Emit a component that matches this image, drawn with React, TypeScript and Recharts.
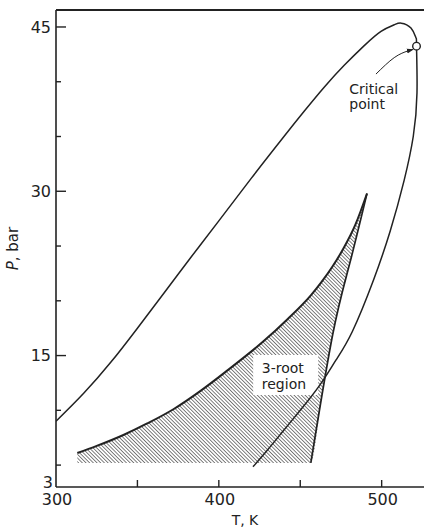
import {
  Area,
  ComposedChart,
  Line,
  ReferenceArea,
  ReferenceDot,
  ReferenceLine,
  XAxis,
  YAxis,
} from "recharts";

const FONT = "DejaVu Sans";
const INK = "#222";

const X_TICKS = [300, 350, 400, 450, 500];
const X_LABELED = [300, 400, 500];
const Y_TICKS = [3, 5, 10, 15, 20, 25, 30, 35, 40, 45];
const Y_LABELED = [15, 30, 45];

const envelope = [
  { T: 300, P: 9.0 },
  { T: 317, P: 11.55 },
  { T: 334, P: 14.45 },
  { T: 350, P: 17.5 },
  { T: 366, P: 20.65 },
  { T: 383, P: 24.0 },
  { T: 400, P: 27.3 },
  { T: 420, P: 31.2 },
  { T: 440, P: 35.0 },
  { T: 452.4, P: 37.3 },
  { T: 464.7, P: 39.5 },
  { T: 477, P: 41.5 },
  { T: 489.3, P: 43.3 },
  { T: 499.6, P: 44.6 },
  { T: 507.7, P: 45.2 },
  { T: 512, P: 45.35 },
  { T: 518, P: 44.9 },
  { T: 521.1, P: 44.0 },
  { T: 521.4, P: 43.25 },
  { T: 521.7, P: 39.0 },
  { T: 519.4, P: 35.0 },
  { T: 513.8, P: 31.0 },
  { T: 505.3, P: 26.4 },
  { T: 495, P: 21.9 },
  { T: 482, P: 17.2 },
  { T: 472, P: 14.6 },
  { T: 462, P: 12.3 },
  { T: 450, P: 10.0 },
  { T: 440, P: 8.2 },
  { T: 430, P: 6.4 },
  { T: 421, P: 4.85 },
];

// 3-root region: lower and upper pressure at each temperature
const threeRoot = [
  { T: 313.1, low: 5.2, high: 6.1 },
  { T: 325, low: 5.2, high: 6.75 },
  { T: 341.4, low: 5.2, high: 7.75 },
  { T: 356, low: 5.2, high: 8.8 },
  { T: 372.1, low: 5.2, high: 10.1 },
  { T: 389, low: 5.2, high: 11.8 },
  { T: 404.9, low: 5.2, high: 13.6 },
  { T: 427.4, low: 5.2, high: 16.3 },
  { T: 442, low: 5.2, high: 18.3 },
  { T: 456.5, low: 5.2, high: 20.5 },
  { T: 463, low: 10.9, high: 21.7 },
  { T: 469.9, low: 16.9, high: 23.15 },
  { T: 476.6, low: 21.1, high: 24.8 },
  { T: 484, low: 25.5, high: 27.0 },
  { T: 491, low: 29.8, high: 29.8 },
];

const steepEdge = [
  { T: 491, P: 29.8 },
  { T: 480.2, P: 23.3 },
  { T: 469.9, P: 16.9 },
  { T: 456.5, P: 5.2 },
];

const criticalPoint = { T: 521.4, P: 43.25 };

const arrow = [
  { T: 496.5, P: 40.7 },
  { T: 507.7, P: 42.2 },
  { T: 515.9, P: 42.8 },
  { T: 519.3, P: 42.95 },
];

const hatchArea = threeRoot.map((d) => ({ T: d.T, range: [d.low, d.high] }));

function YTick(props: any) {
  const { x, y, payload } = props;
  const v = payload.value;
  if (v === 3) {
    return (
      <text x={x - 3} y={y - 5} dy="0.36em" textAnchor="end" fontSize={16} fontFamily={FONT} fill={INK}>
        3
      </text>
    );
  }
  const major = Y_LABELED.includes(v);
  return (
    <g>
      <line x1={x} x2={x + (major ? 10 : 5)} y1={y} y2={y} stroke={INK} strokeWidth={1.4} />
      {major && (
        <text x={x - 5} y={y} dy="0.36em" textAnchor="end" fontSize={16} fontFamily={FONT} fill={INK}>
          {v}
        </text>
      )}
    </g>
  );
}

function XTick(props: any) {
  const { x, y, payload } = props;
  const v = payload.value;
  return (
    <g>
      {v !== 300 && <line x1={x} x2={x} y1={y} y2={y - 7} stroke={INK} strokeWidth={1.4} />}
      {X_LABELED.includes(v) && (
        <text x={x + 1} y={y + 18} textAnchor="middle" fontSize={16} fontFamily={FONT} fill={INK}>
          {v}
        </text>
      )}
    </g>
  );
}

function XTitle({ viewBox }: any) {
  return (
    <text x={viewBox.x + 189} y={viewBox.y + 38} textAnchor="middle" fontSize={14} fontFamily={FONT} fill={INK}>
      T, K
    </text>
  );
}

function YTitle({ viewBox }: any) {
  const cx = 13;
  const cy = viewBox.y + viewBox.height / 2;
  return (
    <text
      x={cx}
      y={cy}
      transform={`rotate(-90 ${cx} ${cy})`}
      textAnchor="middle"
      dy="0.36em"
      fontSize={15}
      fontFamily={FONT}
      fill={INK}
    >
      <tspan fontStyle="italic">P</tspan>, bar
    </text>
  );
}

function CriticalText({ viewBox }: any) {
  return (
    <text x={viewBox.x} y={viewBox.y} fontSize={14} fontFamily={FONT} fill={INK}>
      <tspan x={viewBox.x}>Critical</tspan>
      <tspan x={viewBox.x} dy={14.5}>
        point
      </tspan>
    </text>
  );
}

function RegionText({ viewBox }: any) {
  return (
    <text x={viewBox.x} y={viewBox.y} fontSize={14} fontFamily={FONT} fill={INK}>
      <tspan x={viewBox.x}>3-root</tspan>
      <tspan x={viewBox.x} dy={15.5}>
        region
      </tspan>
    </text>
  );
}

function XTitleWrap(props: any) {
  return <XTitle {...props} />;
}

function YTitleWrap(props: any) {
  return <YTitle {...props} />;
}

export default function App() {
  return (
    <div style={{ position: "absolute", left: 0, top: 0, background: "#fff", fontFamily: FONT }}>
      <svg width={0} height={0} style={{ position: "absolute" }}>
        <defs>
          <pattern id="hatch" patternUnits="userSpaceOnUse" width={6} height={2.6} patternTransform="rotate(45)">
            <line x1={0} y1={1.3} x2={6} y2={1.3} stroke="#555" strokeWidth={0.8} />
          </pattern>
          <marker id="arrowHead" viewBox="0 0 10 10" refX={9} refY={5} markerWidth={7} markerHeight={7} orient="auto">
            <path d="M0,1.5 L10,5 L0,8.5 z" fill={INK} />
          </marker>
        </defs>
      </svg>
      <ComposedChart width={424} height={530} margin={{ top: 10, right: 0, bottom: 0, left: 0 }}>
        <XAxis
          type="number"
          dataKey="T"
          domain={[300, 526]}
          ticks={X_TICKS}
          interval={0}
          allowDataOverflow
          height={43}
          tickSize={0}
          tickMargin={0}
          tickLine={false}
          tick={<XTick />}
          axisLine={{ stroke: INK, strokeWidth: 1.6 }}
          label={<XTitleWrap />}
        />
        <YAxis
          type="number"
          domain={[3, 46.55]}
          ticks={Y_TICKS}
          interval={0}
          allowDataOverflow
          width={56}
          tickSize={0}
          tickMargin={0}
          tickLine={false}
          tick={<YTick />}
          axisLine={{ stroke: INK, strokeWidth: 1.6 }}
          label={<YTitleWrap />}
        />
        <ReferenceLine y={46.55} stroke={INK} strokeWidth={2} />
        <Area
          data={hatchArea}
          dataKey="range"
          type="monotone"
          stroke="none"
          fill="url(#hatch)"
          fillOpacity={1}
          isAnimationActive={false}
        />
        <ReferenceArea x1={421.1} x2={461} y1={11.4} y2={15.05} fill="#fff" fillOpacity={1} stroke="none" />
        <Line
          data={threeRoot}
          dataKey="high"
          type="monotone"
          stroke={INK}
          strokeWidth={2}
          dot={false}
          activeDot={false}
          isAnimationActive={false}
        />
        <Line
          data={steepEdge}
          dataKey="P"
          type="natural"
          stroke={INK}
          strokeWidth={1.7}
          dot={false}
          activeDot={false}
          isAnimationActive={false}
        />
        <Line
          data={envelope}
          dataKey="P"
          type="natural"
          stroke={INK}
          strokeWidth={1.5}
          dot={false}
          activeDot={false}
          isAnimationActive={false}
        />
        <Line
          data={arrow}
          dataKey="P"
          type="natural"
          stroke={INK}
          strokeWidth={1}
          markerEnd="url(#arrowHead)"
          dot={false}
          activeDot={false}
          isAnimationActive={false}
        />
        <ReferenceDot
          x={criticalPoint.T}
          y={criticalPoint.P}
          r={3.8}
          fill="#fff"
          stroke={INK}
          strokeWidth={1.4}
        />
        <ReferenceDot x={480.1} y={38.85} r={0} stroke="none" label={CriticalText} />
        <ReferenceDot x={426.4} y={13.37} r={0} stroke="none" label={RegionText} />
      </ComposedChart>
    </div>
  );
}
